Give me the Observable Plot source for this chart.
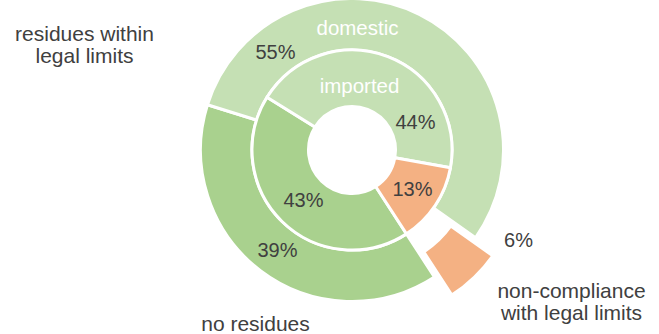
<!DOCTYPE html>
<html><head><meta charset="utf-8">
<script src="https://cdn.jsdelivr.net/npm/d3@7"></script>
<script src="https://cdn.jsdelivr.net/npm/@observablehq/plot@0.6"></script>
<style>html,body{margin:0;padding:0;background:#fff}</style>
</head><body><div id="chart"></div>
<script>
// ---- data ----
const categories = ["no residues", "residues within\nlegal limits", "non-compliance\nwith legal limits"];
const ringNames = ["imported", "domestic"];
const importedValues = [43, 44, 13];
const domesticValues = [39, 55, 6];

// ---- styles / layout (not data) ----
const colors = ["#A9D18E", "#C5E0B4", "#F4B183"];
const textColor = "#404040";
const font = "Liberation Sans, Arial, sans-serif";
const startDeg = 147;
const rings = [
  {name: ringNames[1], values: domesticValues, r0: 100, r1: 151.5, explode: [0, 0, 25]},
  {name: ringNames[0], values: importedValues, r0: 43.5, r1: 100, explode: [0, 0, 0]}
];
// label offsets from donut centre (x right, y up), in px units
const domesticLabelPos = [[-75, -100], [-77, 98], [166, -90]];
const importedLabelPos = [[-49, -50], [63, 28], [60, -38.6]];
const ringLabelPos = [[7, 63.7], [5, 121.7]];
const categoryLabelPos = [[-97, -173], [-268, 105.7], [219, -151]];

const pctLabels = [
  ...domesticValues.map((v, i) => ({text: v + "%", x: domesticLabelPos[i][0], y: domesticLabelPos[i][1]})),
  ...importedValues.map((v, i) => ({text: v + "%", x: importedLabelPos[i][0], y: importedLabelPos[i][1]}))
];
const ringLabels = ringNames.map((n, i) => ({text: n, x: ringLabelPos[i][0], y: ringLabelPos[i][1]}));
const catLabels = categories.map((c, i) => ({text: c, x: categoryLabelPos[i][0], y: categoryLabelPos[i][1]}));

const donut = (index, scales) => {
  const g = d3.create("svg:g");
  const x0 = scales.x(0), y0 = scales.y(0);
  const k = scales.x(1) - scales.x(0);
  const a0 = startDeg * Math.PI / 180;
  for (const ring of rings) {
    const arcs = d3.pie().sort(null).startAngle(a0).endAngle(a0 + 2 * Math.PI)(ring.values);
    const arc = d3.arc().innerRadius(ring.r0 * k).outerRadius(ring.r1 * k);
    arcs.forEach((a, i) => {
      const mid = (a.startAngle + a.endAngle) / 2;
      const off = ring.explode[i] * k;
      g.append("path")
        .attr("d", arc(a))
        .attr("fill", colors[i])
        .attr("stroke", "#fff")
        .attr("stroke-width", 3)
        .attr("transform", `translate(${x0 + Math.sin(mid) * off},${y0 - Math.cos(mid) * off})`);
    });
  }
  return g.node();
};

const chart = Plot.plot({
  width: 659, height: 334,
  marginTop: 0, marginRight: 0, marginBottom: 0, marginLeft: 0,
  x: {domain: [-352, 307], axis: null},
  y: {domain: [-184, 150], axis: null},
  style: {fontFamily: font, background: "#fff"},
  marks: [
    donut,
    Plot.text(pctLabels, {x: "x", y: "y", text: "text", fill: textColor, fontSize: 20, fontFamily: font}),
    Plot.text(ringLabels, {x: "x", y: "y", text: "text", fill: "#fff", fontSize: 20.5, fontFamily: font}),
    Plot.text(catLabels, {x: "x", y: "y", text: "text", fill: textColor, fontSize: 21, lineHeight: 1.05, fontFamily: font})
  ]
});
document.getElementById("chart").append(chart);
</script>
</body></html>
